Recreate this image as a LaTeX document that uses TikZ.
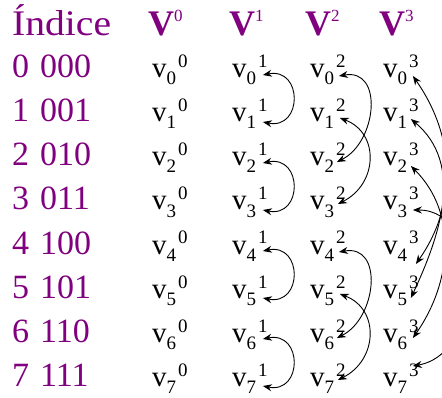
\documentclass[tikz,border=0pt]{standalone}
\usepackage{fontspec}
\setmainfont{Liberation Serif}
\usepackage{xcolor}
\usepackage{graphicx}
\definecolor{idxPurple}{HTML}{800080}
\usetikzlibrary{arrows.meta}
\newcommand{\vlab}[2]{v\raisebox{-7pt}{\fontsize{19}{19}\selectfont #1}\kern2pt\raisebox{10pt}{\fontsize{19}{19}\selectfont #2}}
\newcommand{\Vhead}[1]{{\bfseries V}\raisebox{14pt}{\fontsize{17}{17}\selectfont #1}}

\begin{document}
\begin{tikzpicture}[x=1pt, y=1pt,
  idx/.style={anchor=base west, inner sep=0pt, text=idxPurple, font=\fontsize{34}{34}\selectfont},
  hnode/.style={idx, font=\fontsize{36}{36}\selectfont},
  vnode/.style={anchor=base west, inner sep=0pt, font=\fontsize{29}{29}\selectfont},
  link/.style={<->, >={Stealth[length=9pt, width=7pt, inset=3pt]}, line width=0.9pt}]
  \useasboundingbox[fill=white] (0,0) rectangle (442,397);
  \clip (0,0) rectangle (442,397);
  % headers
  \node[hnode] (hdr) at (12,361) {\scalebox{1.1}[1]{Índice}};
  \node[hnode] (h0) at (148,361) {\Vhead{0}};
  \node[hnode] (h1) at (229,361) {\Vhead{1}};
  \node[hnode] (h2) at (305,361) {\Vhead{2}};
  \node[hnode] (h3) at (379,361) {\Vhead{3}};
  % index column
  \node[idx] (n0) at (12,319) {0}; \node[idx] (b0) at (40,319) {000};
  \node[idx] (n1) at (12,275) {1}; \node[idx] (b1) at (40,275) {001};
  \node[idx] (n2) at (12,231) {2}; \node[idx] (b2) at (40,231) {010};
  \node[idx] (n3) at (12,187) {3}; \node[idx] (b3) at (40,187) {011};
  \node[idx] (n4) at (12,143) {4}; \node[idx] (b4) at (40,143) {100};
  \node[idx] (n5) at (12,99) {5}; \node[idx] (b5) at (40,99) {101};
  \node[idx] (n6) at (12,55) {6}; \node[idx] (b6) at (40,55) {110};
  \node[idx] (n7) at (12,11) {7}; \node[idx] (b7) at (40,11) {111};
  % V^0
  \node[vnode] (v0-0) at (152,319) {\vlab{0}{0}};
  \node[vnode] (v0-1) at (152,275) {\vlab{1}{0}};
  \node[vnode] (v0-2) at (152,231) {\vlab{2}{0}};
  \node[vnode] (v0-3) at (152,187) {\vlab{3}{0}};
  \node[vnode] (v0-4) at (152,143) {\vlab{4}{0}};
  \node[vnode] (v0-5) at (152,99) {\vlab{5}{0}};
  \node[vnode] (v0-6) at (152,55) {\vlab{6}{0}};
  \node[vnode] (v0-7) at (152,11) {\vlab{7}{0}};
  % V^1
  \node[vnode] (v1-0) at (232,319) {\vlab{0}{1}};
  \node[vnode] (v1-1) at (232,275) {\vlab{1}{1}};
  \node[vnode] (v1-2) at (232,231) {\vlab{2}{1}};
  \node[vnode] (v1-3) at (232,187) {\vlab{3}{1}};
  \node[vnode] (v1-4) at (232,143) {\vlab{4}{1}};
  \node[vnode] (v1-5) at (232,99) {\vlab{5}{1}};
  \node[vnode] (v1-6) at (232,55) {\vlab{6}{1}};
  \node[vnode] (v1-7) at (232,11) {\vlab{7}{1}};
  % V^2
  \node[vnode] (v2-0) at (310,319) {\vlab{0}{2}};
  \node[vnode] (v2-1) at (310,275) {\vlab{1}{2}};
  \node[vnode] (v2-2) at (310,231) {\vlab{2}{2}};
  \node[vnode] (v2-3) at (310,187) {\vlab{3}{2}};
  \node[vnode] (v2-4) at (310,143) {\vlab{4}{2}};
  \node[vnode] (v2-5) at (310,99) {\vlab{5}{2}};
  \node[vnode] (v2-6) at (310,55) {\vlab{6}{2}};
  \node[vnode] (v2-7) at (310,11) {\vlab{7}{2}};
  % V^3
  \node[vnode] (v3-0) at (383,319) {\vlab{0}{3}};
  \node[vnode] (v3-1) at (383,275) {\vlab{1}{3}};
  \node[vnode] (v3-2) at (383,231) {\vlab{2}{3}};
  \node[vnode] (v3-3) at (383,187) {\vlab{3}{3}};
  \node[vnode] (v3-4) at (383,143) {\vlab{4}{3}};
  \node[vnode] (v3-5) at (383,99) {\vlab{5}{3}};
  \node[vnode] (v3-6) at (383,55) {\vlab{6}{3}};
  \node[vnode] (v3-7) at (383,11) {\vlab{7}{3}};
  % step 1: neighbours
  \draw[link] ([shift={(-5pt,3pt)}]v1-0.base east) .. controls +(40,8) and +(40,-8) .. ([shift={(-5pt,0pt)}]v1-1.base east);
  \draw[link] ([shift={(-5pt,3pt)}]v1-2.base east) .. controls +(40,8) and +(40,-8) .. ([shift={(-5pt,0pt)}]v1-3.base east);
  \draw[link] ([shift={(-5pt,3pt)}]v1-4.base east) .. controls +(40,8) and +(40,-8) .. ([shift={(-5pt,0pt)}]v1-5.base east);
  \draw[link] ([shift={(-5pt,3pt)}]v1-6.base east) .. controls +(40,8) and +(40,-8) .. ([shift={(-5pt,0pt)}]v1-7.base east);
  % step 2: distance two
  \draw[link] ([shift={(-7pt,2pt)}]v2-0.base east) .. controls +(45,8) and +(40,20) .. ([shift={(-9pt,4pt)}]v2-2.base east);
  \draw[link] ([shift={(-6pt,4pt)}]v2-1.base east) .. controls +(40,-15) and +(40,20) .. ([shift={(-8pt,6pt)}]v2-3.base east);
  \draw[link] ([shift={(-7pt,2pt)}]v2-4.base east) .. controls +(45,8) and +(40,20) .. ([shift={(-9pt,4pt)}]v2-6.base east);
  \draw[link] ([shift={(-6pt,4pt)}]v2-5.base east) .. controls +(40,-15) and +(40,20) .. ([shift={(-8pt,6pt)}]v2-7.base east);
  % step 3: distance four
  \draw[link] ([shift={(-6pt,2pt)}]v3-0.base east) to[out=-55, in=55] ([shift={(-3pt,-10pt)}]v3-4.base east);
  \draw[link] ([shift={(-8pt,3pt)}]v3-1.base east) to[out=-40, in=65] ([shift={(-8pt,0pt)}]v3-5.base east);
  \draw[link] ([shift={(-8pt,0pt)}]v3-2.base east) to[out=-45, in=55] ([shift={(-6pt,4pt)}]v3-6.base east);
  \draw[link] ([shift={(-6pt,0pt)}]v3-3.base east) to[out=0, in=10, looseness=1.2] ([shift={(-6pt,20pt)}]v3-7.base east);
\end{tikzpicture}
\end{document}
